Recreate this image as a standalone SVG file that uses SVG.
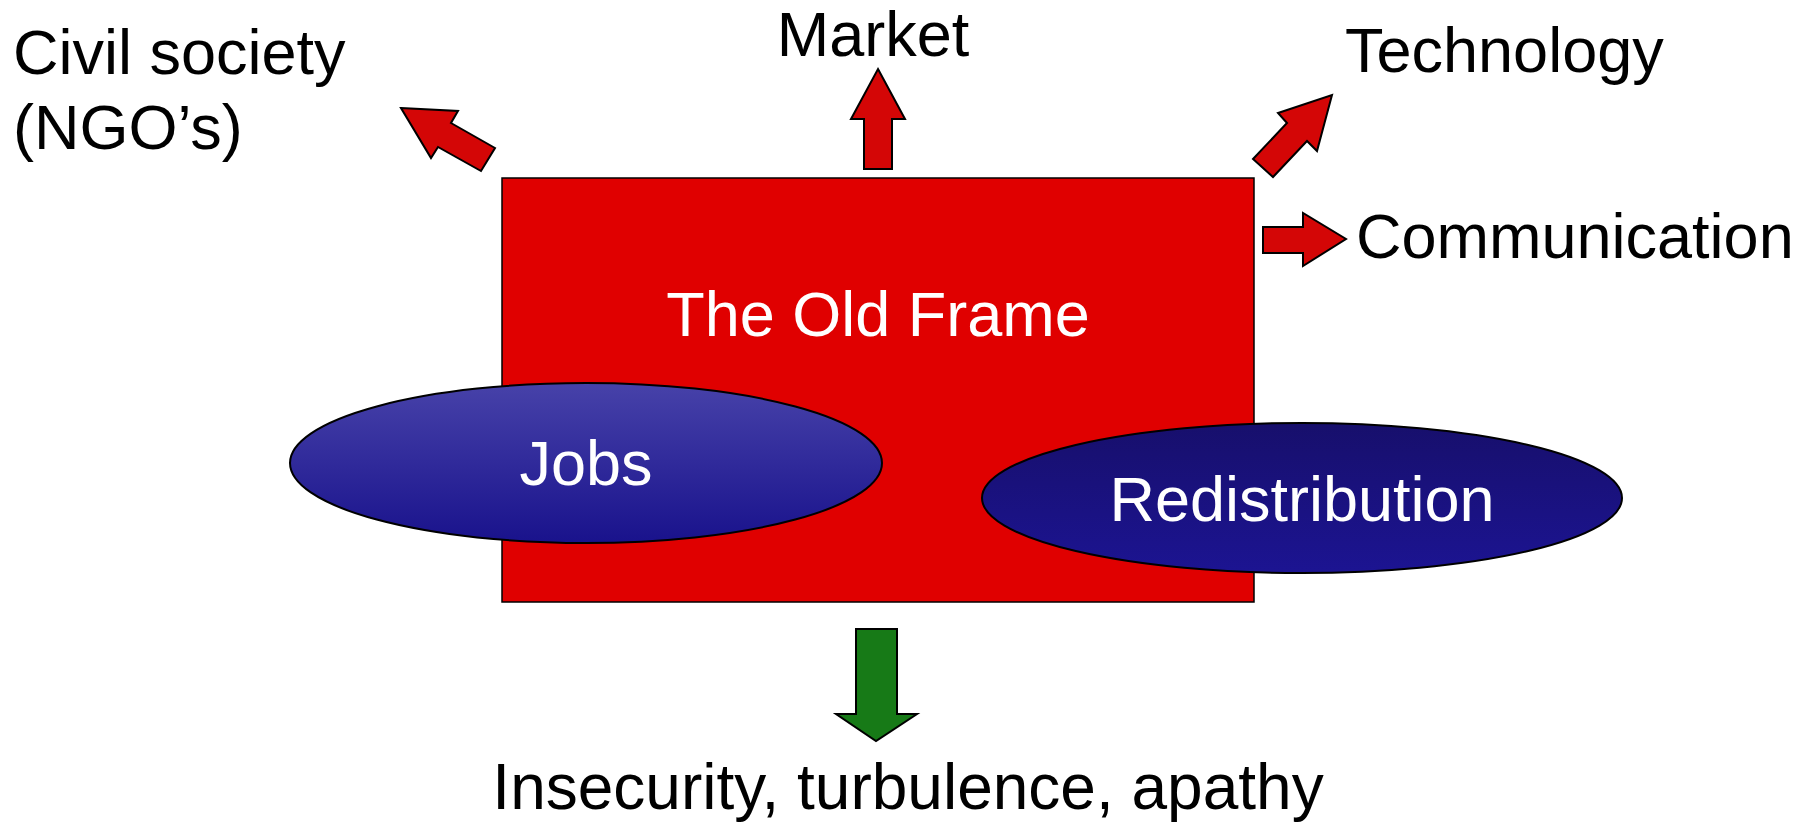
<svg xmlns="http://www.w3.org/2000/svg" width="1811" height="822" viewBox="0 0 1811 822">
<style>
text{font-family:"Liberation Sans",Arial,sans-serif;font-size:63px}
.lbl{fill:#000}
.wt{fill:#fff;text-anchor:middle}
.arr{fill:#D40606;stroke:#000;stroke-width:2;stroke-linejoin:miter}
.garr{fill:#177A17;stroke:#000;stroke-width:2}
</style>
<defs>
<linearGradient id="gJobs" x1="0" y1="0" x2="0" y2="1">
<stop offset="0" stop-color="#4742A9"/>
<stop offset="1" stop-color="#19128C"/>
</linearGradient>
<linearGradient id="gRed" x1="0" y1="0" x2="0" y2="1">
<stop offset="0" stop-color="#170F6C"/>
<stop offset="1" stop-color="#1C1492"/>
</linearGradient>
</defs>
<rect width="1811" height="822" fill="#fff"/>
<g id="old-frame">
<rect x="502" y="178" width="752" height="424" fill="#E00000" stroke="#000" stroke-width="1.5"/>
<text class="wt" x="878" y="336">The Old Frame</text>
</g>
<g id="jobs">
<ellipse cx="586" cy="463" rx="296" ry="80" fill="url(#gJobs)" stroke="#000" stroke-width="2"/>
<text class="wt" x="586" y="485">Jobs</text>
</g>
<g id="redistribution">
<ellipse cx="1302" cy="498" rx="320" ry="75" fill="url(#gRed)" stroke="#000" stroke-width="2"/>
<text class="wt" x="1302" y="521">Redistribution</text>
</g>
<g id="connectors">
<polygon class="arr" points="401,108 458,111 451,123 495,148 481,171 438,147 431,158"/>
<polygon class="arr" points="878,69 905,119 892,119 892,169 864,169 864,119 851,119"/>
<polygon class="arr" points="1332,95 1317,151 1307,141 1273,177 1253,159 1287,123 1278,113"/>
<polygon class="arr" points="1263,227 1303,227 1303,213 1346,239 1303,266 1303,253 1263,253"/>
<polygon class="garr" points="856,629 897,629 897,714 917,714 876,741 836,714 856,714"/>
</g>
<g id="civil-society">
<text class="lbl" x="13" y="74">Civil society</text>
<text class="lbl" x="13" y="149">(NGO’s)</text>
</g>
<g id="market"><text class="lbl" x="873" y="56" text-anchor="middle">Market</text></g>
<g id="technology"><text class="lbl" x="1345" y="72">Technology</text></g>
<g id="communication"><text class="lbl" x="1356" y="258">Communication</text></g>
<g id="insecurity"><text class="lbl" x="908" y="809" text-anchor="middle" style="font-size:64px">Insecurity, turbulence, apathy</text></g>
</svg>
